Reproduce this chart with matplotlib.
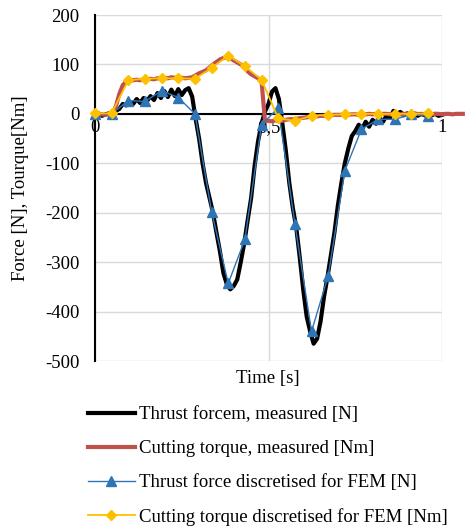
import matplotlib
matplotlib.use("Agg")
import matplotlib.pyplot as plt
import numpy as np

plt.rcParams['font.family'] = ['Liberation Serif', 'DejaVu Serif']
plt.rcParams['axes.unicode_minus'] = False

# ---- data ----
t_meas = [round(0.01 * i, 2) for i in range(101)]
thrust_meas = [-2, 1, -4, -1, 1, -4, 6, 10, 20, 17,
               24, 20, 30, 22, 32, 26, 36, 28, 42, 32,
               46, 34, 49, 36, 50, 38, 48, 52, 35, -10,
               -50, -100, -140, -170, -200, -240, -278, -322, -345, -355,
               -348, -335, -300, -262, -215, -170, -105, -55, -20, 5,
               20, 45, 52, 30, -20, -75, -140, -190, -230, -290,
               -355, -410, -440, -465, -455, -420, -370, -330, -285, -240,
               -185, -140, -100, -70, -45, -35, -22, -30, -16, -26,
               -12, -20, -8, -16, -4, -8, 6, 0, 4, -3,
               1, -3, 1, -4, 0, -3, 1, -3, 0, -4,
               -2]

t_torque = [round(0.01 * i, 2) for i in range(107)]
torque_meas = [-1, -2, -1, -2, -1, -1, 15, 40, 58, 65,
               67, 68, 69, 68, 70, 69, 71, 70, 72, 71,
               73, 72, 74, 73, 72, 73, 72, 73, 74, 78,
               82, 85, 88, 94, 100, 105, 110, 113, 115, 113,
               108, 104, 100, 94, 86, 80, 76, 72, 66, -15,
               -14, -15, -13, -15, -14, -12, -11, -11, -10, -9,
               -8, -7, -6, -5, -5, -4, -4, -3, -3, -2,
               -2, -2, -1, -2, -1, -1, -2, -1, -1, 0,
               -1, 0, -1, 0, 0, -1, 0, 0, -1, 0,
               0, -1, 0, 0, -1, 0, 0, -1, 0, 0,
               -1, 0, 0, -1, 0, 0, 0]

t_fem = [round(0.048 * i, 3) for i in range(21)]
thrust_fem = [0, 0, 27, 25, 47, 33, 0, -198, -343, -254,
              -22, 12, -222, -440, -328, -115, -31, -11, -11, -1,
              -5]
torque_fem = [1, 1, 68, 71, 72, 72, 71, 93, 118, 96,
              69, -9, -14, -4, -2, -1, 0, 0, 0, 0,
              1]

labels = ["Thrust forcem, measured [N]",
          "Cutting torque, measured [Nm]",
          "Thrust force discretised for FEM [N]",
          "Cutting torque discretised for FEM [Nm]"]

FS = 13.5

# ---- figure ----
fig = plt.figure(figsize=(4.65, 5.29), dpi=100)
ax = fig.add_axes([95 / 465, 1 - 361 / 529, (442 - 95) / 465, (361 - 15) / 529])

ax.set_xlim(0, 1)
ax.set_ylim(-500, 200)
ax.set_yticks(np.arange(-500, 201, 100))
ax.set_xticks([0, 0.5, 1])
ax.set_xticklabels(["0", "0,5", "1"])
ax.grid(True, color='#d9d9d9', linewidth=1.0)
ax.set_axisbelow(True)

for s in ['top', 'right']:
    ax.spines[s].set_visible(False)
ax.spines['bottom'].set_position(('data', 0))
ax.spines['bottom'].set_linewidth(1.5)
ax.spines['left'].set_linewidth(1.5)
ax.spines['bottom'].set_zorder(1.5)
ax.tick_params(axis='both', length=0, labelsize=FS)
ax.tick_params(axis='x', pad=4)
ax.tick_params(axis='y', pad=11)

l1, = ax.plot(t_meas, thrust_meas, color='black', lw=3.0, clip_on=False, zorder=3)
l2, = ax.plot(t_torque, torque_meas, color='#C0504D', lw=3.0, clip_on=False, zorder=3)
l3, = ax.plot(t_fem, thrust_fem, color='#2E75B6', lw=1.0, marker='^', ms=7,
              clip_on=False, zorder=4)
l4, = ax.plot(t_fem, torque_fem, color='#FFC000', lw=1.3, marker='D', ms=5.5,
              clip_on=False, zorder=5)

ax.set_ylabel("Force [N], Tourque[Nm]", fontsize=FS)
ax.yaxis.set_label_coords(-0.19, 0.5)
fig.text(268 / 465, 1 - 379 / 529, "Time [s]", ha='center', va='center', fontsize=FS)

fig.legend([l1, l2, l3, l4], labels, loc='upper left',
           bbox_to_anchor=(88 / 465, 1 - 406 / 529), frameon=False,
           fontsize=FS, handlelength=2.5, handletextpad=0.22,
           labelspacing=0.9, borderaxespad=0, borderpad=0)

fig.savefig("out.png", dpi=100)
